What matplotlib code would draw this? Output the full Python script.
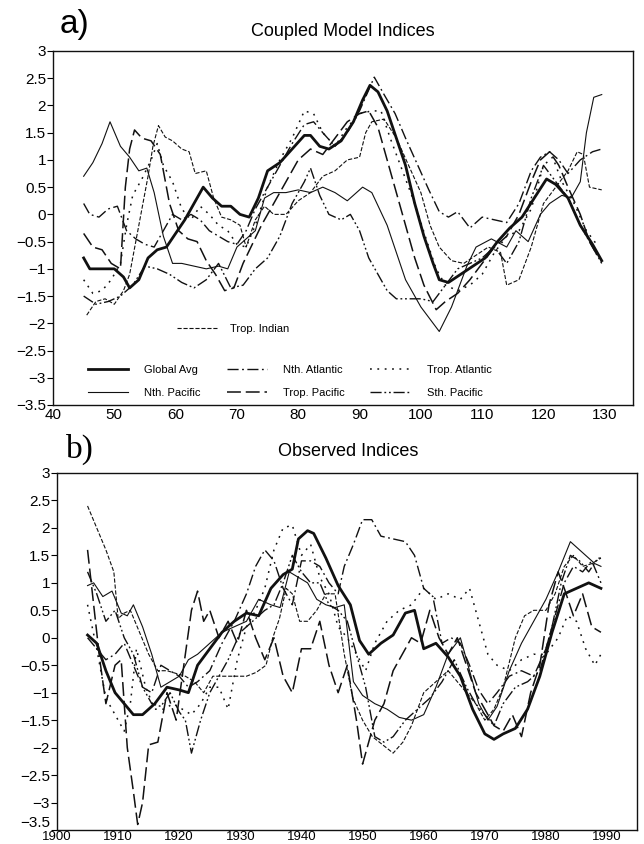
import matplotlib
matplotlib.use("Agg")
import matplotlib.pyplot as plt
from matplotlib import font_manager
from matplotlib.lines import Line2D
from matplotlib.ticker import FuncFormatter

# ---- a) coupled model indices (model years) ----
model_global_x = [45, 46, 48, 50, 51.5, 52.5, 54, 55.5, 57, 58.5, 60, 61.5, 63, 64.5, 66, 67.5, 69, 70.5, 72, 73.5,
                  75, 77, 79, 81, 82, 83.5, 85, 87, 89, 90.5, 91.7, 93, 94.5, 96, 97.5, 99, 100.5, 102, 103, 104.5,
                  106.5, 108.5, 110.5, 112.5, 114.5, 116.5, 118.5, 120.5, 122, 124, 126, 128, 129.5]
model_global_y = [-0.8, -1.0, -1.0, -1.0, -1.15, -1.35, -1.2, -0.8, -0.65, -0.6, -0.35, -0.1, 0.2, 0.5, 0.3, 0.15,
                  0.15, 0.0, -0.05, 0.3, 0.8, 0.95, 1.2, 1.45, 1.45, 1.25, 1.2, 1.35, 1.7, 2.1, 2.37, 2.25, 1.9, 1.4,
                  0.9, 0.2, -0.4, -0.9, -1.2, -1.25, -1.1, -0.95, -0.8, -0.5, -0.25, -0.05, 0.3, 0.65, 0.55, 0.3,
                  -0.2, -0.55, -0.85]

model_npac_x = [45, 46.5, 48, 49.3, 51, 52.5, 54, 55.3, 56.5, 58, 59.5, 61, 63, 65, 67, 68.5, 70, 71.5, 73, 74.5,
                76, 78, 80, 82, 84, 86, 88, 90.5, 92, 94.5, 97.5, 100, 103, 105, 107.5, 109, 111.5, 114, 115.5,
                117.5, 119.5, 121, 123, 124.5, 126, 127, 128.2, 129.5]
model_npac_y = [0.7, 0.95, 1.3, 1.7, 1.25, 1.05, 0.8, 0.85, 0.4, -0.4, -0.9, -0.9, -0.95, -1.0, -0.95, -1.0, -0.6,
                -0.45, -0.3, 0.3, 0.4, 0.4, 0.45, 0.4, 0.5, 0.4, 0.25, 0.5, 0.4, -0.2, -1.2, -1.7, -2.15, -1.7,
                -0.95, -0.6, -0.45, -0.6, -0.3, -0.5, 0.0, 0.2, 0.35, 0.3, 0.6, 1.5, 2.15, 2.2]

model_natl_x = [45, 46, 47.5, 49, 50.5, 52, 53.5, 55, 56.5, 58, 59.5, 61, 62.5, 64, 65.5, 67, 68.5, 70, 71.5, 73,
                75, 77, 79, 81, 82.5, 84, 86, 88, 90, 92.4, 94, 95.8, 97.5, 99.5, 101.3, 103, 104.5, 106, 108, 110,
                112, 114, 116, 118, 119.5, 121, 122.5, 124, 126, 128, 129.5]
model_natl_y = [0.2, 0.0, -0.05, 0.1, 0.15, -0.3, -0.45, -0.55, -0.6, -0.3, 0.0, -0.1, 0.0, -0.1, -0.3, -0.4, -0.5,
                -0.55, -0.3, 0.1, 0.5, 0.9, 1.3, 1.65, 1.7, 1.5, 1.25, 1.5, 1.9, 2.52, 2.2, 1.85, 1.4, 0.9, 0.45,
                0.05, -0.05, 0.05, -0.25, -0.05, -0.1, -0.15, 0.2, 0.8, 1.05, 1.15, 1.0, 0.75, 1.0, 1.15, 1.2]

model_tatl_x = [45, 46.5, 48, 49.5, 51, 52, 53, 54.5, 56, 57, 58, 59.5, 61, 62.5, 64, 65.5, 67, 68.5, 70, 71.5,
                73, 75, 77, 79, 81, 82.5, 84, 86, 88, 90, 92, 93.5, 95, 97, 99, 101, 102.5, 104, 106, 108, 110,
                112, 114, 116, 118, 120, 121.5, 123, 125, 127, 129]
model_tatl_y = [-1.2, -1.45, -1.4, -1.2, -0.9, -0.2, 0.35, 0.65, 1.0, 1.3, 0.9, 0.6, 0.1, -0.1, 0.15, 0.0, -0.2,
                -0.3, -0.55, -0.6, -0.2, 0.5, 1.0, 1.4, 1.9, 1.85, 1.5, 1.25, 1.6, 1.85, 1.9, 1.9, 1.4, 0.8, 0.2,
                -0.5, -1.0, -1.3, -1.4, -1.3, -1.1, -0.7, -0.4, -0.3, 0.1, 0.9, 1.05, 0.6, 0.2, -0.3, -0.6]

model_tpac_x = [45, 46.5, 48, 49.5, 51, 51.8, 52.5, 53.3, 54.5, 56, 57.5, 59, 60.5, 62, 63.5, 65, 66.5, 68, 69.5,
                71, 72.5, 74, 76, 78, 80, 82, 84, 86, 88, 90, 91.5, 93, 94.5, 96, 97.5, 99, 100.5, 102.5, 104, 106,
                108, 110, 112, 114, 116, 118, 119.5, 121, 122.5, 124, 126, 127.5, 129]
model_tpac_y = [-0.35, -0.6, -0.65, -0.9, -1.0, 0.5, 1.2, 1.55, 1.4, 1.35, 1.1, 0.2, -0.3, -0.45, -0.5, -0.85,
                -1.1, -1.4, -1.35, -0.9, -0.55, -0.2, 0.2, 0.6, 1.0, 1.2, 1.1, 1.4, 1.7, 1.85, 1.9, 1.6, 1.0, 0.4,
                -0.2, -0.8, -1.3, -1.75, -1.6, -1.45, -1.2, -0.9, -0.6, -0.4, 0.0, 0.6, 1.0, 1.15, 0.9, 0.5, 0.0,
                -0.5, -0.8]

model_spac_x = [45, 47, 49, 51, 53, 55, 57, 59, 61, 63, 65, 67, 69, 71, 73, 75, 77, 79, 81, 82, 83.5, 85, 87, 88.5,
                90, 91.5, 93, 94.5, 96, 98, 100, 102, 104, 106, 108, 110, 112, 114, 116, 118, 120, 122, 124, 126,
                128, 129.5]
model_spac_y = [-1.5, -1.65, -1.6, -1.5, -1.3, -0.95, -1.0, -1.1, -1.25, -1.35, -1.2, -0.9, -1.35, -1.3, -1.0,
                -0.8, -0.4, 0.2, 0.6, 0.85, 0.35, 0.0, -0.1, 0.0, -0.3, -0.8, -1.1, -1.4, -1.55, -1.55, -1.55,
                -1.6, -1.3, -1.0, -0.9, -0.8, -0.6, -0.9, -0.5, 0.3, 0.9, 0.6, 0.3, -0.2, -0.6, -0.9]

model_tind_x = [45.5, 47, 48.5, 50, 51.5, 52.5, 53.5, 54.5, 55.5, 56.3, 57.2, 58.3, 59.5, 61, 62.2, 63.2, 65, 66.2,
                67.5, 69, 70.5, 71.5, 73, 74.5, 76, 78, 80, 82, 84, 86, 88, 90, 91, 92, 94, 96, 98, 100, 101.5, 103,
                105, 107, 109, 111, 113, 114, 116, 118, 120, 122, 124, 125.5, 126.5, 127.5, 129.5]
model_tind_y = [-1.85, -1.6, -1.55, -1.65, -1.4, -1.1, -0.5, 0.1, 0.7, 1.25, 1.63, 1.42, 1.35, 1.2, 1.15, 0.75,
                0.8, 0.3, -0.05, -0.1, -0.2, -0.6, -0.1, 0.15, 0.0, 0.0, 0.25, 0.4, 0.7, 0.8, 1.0, 1.05, 1.5, 1.7,
                1.75, 1.4, 0.9, 0.4, -0.2, -0.6, -0.85, -0.9, -0.75, -0.6, -0.7, -1.3, -1.2, -0.6, 0.2, 0.5, 0.8,
                1.15, 1.1, 0.5, 0.45]

# ---- b) observed indices (calendar years) ----
obs_global_x = [1905, 1906.5, 1908, 1909.5, 1911, 1912.5, 1914, 1916, 1918, 1920, 1921.5, 1923, 1925, 1927, 1929,
                1931, 1933, 1935, 1937, 1938.5, 1939.5, 1941, 1942, 1944, 1946, 1948, 1949.5, 1951, 1953, 1955,
                1957, 1958.5, 1960, 1962, 1964, 1966, 1968, 1970, 1971.5, 1973, 1975, 1977, 1979, 1981, 1983, 1985,
                1987, 1989]
obs_global_y = [0.05, -0.1, -0.6, -1.0, -1.2, -1.4, -1.4, -1.2, -0.9, -0.95, -1.0, -0.5, -0.2, 0.1, 0.3, 0.45, 0.4,
                0.9, 1.15, 1.25, 1.8, 1.95, 1.9, 1.45, 0.95, 0.6, -0.05, -0.3, -0.1, 0.05, 0.45, 0.5, -0.2, -0.1,
                -0.35, -0.7, -1.3, -1.75, -1.85, -1.75, -1.65, -1.3, -0.7, 0.1, 0.8, 0.9, 1.0, 0.9]

obs_npac_x = [1905, 1906, 1907.5, 1909, 1910.5, 1911.5, 1912.5, 1914, 1915.5, 1917, 1918.5, 1920, 1921.5, 1923,
              1925, 1927, 1929, 1931, 1933, 1935, 1936.5, 1938, 1939.5, 1941, 1942.5, 1944, 1945.5, 1947, 1948.5,
              1950, 1952, 1954, 1956, 1958, 1960, 1962, 1964, 1966, 1967.5, 1969, 1970.5, 1972, 1974, 1976, 1978,
              1980, 1982, 1984, 1985.5, 1987, 1988, 1989]
obs_npac_y = [0.95, 1.0, 0.75, 0.85, 0.45, 0.4, 0.6, 0.2, -0.3, -0.9, -0.8, -0.7, -0.4, -0.3, -0.1, 0.1, 0.2, 0.3,
              0.7, 0.6, 0.55, 1.2, 1.1, 1.0, 0.7, 0.6, 0.55, 0.6, -0.8, -1.05, -1.2, -1.3, -1.45, -1.5, -1.4, -0.9,
              -0.3, 0.0, -0.6, -1.2, -1.5, -1.25, -0.6, -0.1, 0.3, 0.7, 1.2, 1.75, 1.6, 1.45, 1.35, 1.3]

obs_natl_x = [1905, 1906.5, 1908, 1909.5, 1911, 1912.5, 1914, 1915.5, 1917, 1918.5, 1920, 1921.5, 1923, 1925,
              1927, 1929, 1931, 1932.5, 1934, 1935.5, 1937, 1938.5, 1940, 1941.5, 1943, 1944.5, 1946, 1947, 1948.5,
              1950, 1951.5, 1953, 1955, 1957, 1958.5, 1960, 1961.5, 1963, 1964.5, 1966, 1967.5, 1969, 1970.5, 1972,
              1974, 1976, 1978, 1980, 1981.5, 1983, 1984.5, 1986, 1987.5, 1989]
obs_natl_y = [0.0, -0.2, -0.4, -0.3, -0.1, -0.5, -0.9, -1.0, -0.5, -0.6, -0.7, -0.9, -0.8, -0.6, -0.1, 0.3, 0.8,
              1.3, 1.6, 1.4, 0.9, 0.6, 1.4, 1.4, 1.3, 1.0, 0.8, 1.3, 1.7, 2.15, 2.15, 1.85, 1.8, 1.75, 1.5, 0.9,
              0.75, -0.1, 0.0, -0.1, -0.5, -0.95, -1.2, -1.0, -0.7, -0.6, -0.7, -0.2, 0.4, 1.0, 1.3, 1.2, 1.4, 1.0]

obs_tatl_x = [1905, 1906.5, 1908, 1909.5, 1911, 1912, 1913, 1914.5, 1916, 1917.5, 1919, 1920.5, 1922, 1923.5, 1925,
              1926.5, 1928, 1929.5, 1931, 1932.5, 1934, 1935.5, 1937, 1938.5, 1940, 1941.5, 1943, 1944.5, 1946,
              1947.5, 1949, 1950.5, 1952, 1954, 1956, 1958, 1960, 1962, 1964, 1966, 1967.5, 1969, 1970.5, 1972,
              1974, 1976, 1978, 1980, 1982, 1983.5, 1985, 1986.5, 1988, 1989]
obs_tatl_y = [0.6, -0.2, -1.1, -1.4, -1.7, -1.2, -0.2, -0.9, -1.3, -1.3, -1.2, -1.3, -1.4, -1.2, -0.9, -0.9, -1.3,
              -0.4, 0.2, 0.5, 0.9, 1.6, 2.0, 2.05, 1.5, 1.7, 1.1, 0.8, 0.2, 0.0, -0.3, -0.6, -0.1, 0.3, 0.5, 0.6,
              0.9, 0.7, 0.8, 0.7, 0.9, 0.3, -0.3, -0.5, -0.6, -0.4, -0.3, -0.3, 0.0, 0.4, 0.3, -0.2, -0.5, -0.3]

obs_tpac_x = [1905, 1906, 1907, 1908, 1909.5, 1910.5, 1911.5, 1912.5, 1913.2, 1914, 1915, 1916.5, 1918, 1919.5,
              1921, 1922, 1923, 1924, 1925, 1926.5, 1928, 1929.5, 1931, 1932.5, 1934, 1935.5, 1937, 1938.5, 1940,
              1941.5, 1943, 1944.5, 1946, 1947.5, 1949, 1950, 1951, 1952, 1953.5, 1955, 1956.5, 1958, 1959.5, 1961,
              1962.5, 1964, 1965.5, 1967, 1968.5, 1970, 1971.5, 1973, 1974.5, 1976, 1977.5, 1979, 1980.5, 1982,
              1983, 1984.5, 1986, 1987.5, 1989]
obs_tpac_y = [1.6, 0.6, -0.4, -1.2, -0.5, -0.4, -2.0, -2.8, -3.4, -3.0, -1.95, -1.9, -1.0, -1.5, -0.3, 0.5, 0.85,
              0.3, 0.5, 0.0, 0.3, -0.1, 0.5, 0.0, -0.4, 0.0, -0.7, -1.0, -0.2, -0.2, 0.3, -0.5, -1.0, -0.5, -1.5,
              -2.3, -1.9, -1.5, -1.2, -0.6, -0.3, 0.0, -0.1, 0.5, 0.0, -0.3, 0.0, -0.5, -1.0, -1.3, -1.6, -1.7,
              -1.4, -1.8, -1.0, -0.5, 0.6, 1.2, 0.9, 0.4, 0.8, 0.2, 0.1]

obs_spac_x = [1905, 1906.5, 1908, 1909.5, 1911, 1912.5, 1914, 1915.5, 1917, 1918.5, 1920, 1921, 1922, 1923.5, 1925,
              1926.5, 1928, 1930, 1932, 1934, 1935.5, 1937, 1938.5, 1940, 1941.5, 1943, 1944.5, 1946, 1947.5, 1949,
              1950.5, 1952, 1953.5, 1955, 1957, 1959, 1961, 1963, 1965, 1967, 1968.5, 1970, 1971.5, 1973, 1975,
              1977, 1979, 1981, 1982.5, 1984, 1985.5, 1987, 1988.5, 1989]
obs_spac_y = [1.2, 0.8, 0.3, 0.5, 0.0, -0.3, -0.9, -1.2, -1.25, -1.0, -1.35, -1.5, -2.1, -1.5, -1.0, -0.7, -0.4,
              0.1, 0.3, 0.5, 0.6, 1.0, 1.5, 1.2, 1.0, 1.0, 0.6, 0.5, 0.3, -0.3, -0.9, -1.8, -1.9, -1.8, -1.5, -1.3,
              -1.1, -0.8, -0.4, -0.9, -1.2, -1.4, -1.6, -1.2, -0.9, -0.8, -0.6, 0.2, 1.0, 1.5, 1.4, 1.2, 1.45, 1.45]

obs_tind_x = [1905, 1906.5, 1908, 1909.3, 1910, 1911, 1912, 1913.5, 1915, 1916.5, 1918, 1919.5, 1921, 1922.5, 1924,
              1925.5, 1927, 1929, 1931, 1932.6, 1934.2, 1935.3, 1936.4, 1937.5, 1938.5, 1939.7, 1941, 1942.5, 1944,
              1945.5, 1947, 1948.4, 1950, 1951.6, 1953.3, 1955, 1956.6, 1958, 1960, 1962, 1964, 1965.5, 1967,
              1968.5, 1970, 1971.5, 1973, 1975, 1976.5, 1978, 1980, 1981.5, 1983, 1984.5, 1986, 1987.5, 1989]
obs_tind_y = [2.4, 2.0, 1.6, 1.2, 0.35, 0.45, 0.5, 0.1, -0.3, -0.6, -0.6, -0.65, -0.7, -0.8, -1.0, -0.7, -0.7,
              -0.7, -0.7, -0.63, -0.5, 0.0, 0.35, 0.9, 0.8, 0.3, 0.3, 0.5, 0.8, 0.8, -0.3, -1.1, -1.5, -1.8, -1.95,
              -2.1, -1.9, -1.6, -1.0, -0.8, -0.6, -0.8, -1.0, -1.2, -1.5, -1.3, -0.9, 0.0, 0.4, 0.5, 0.5, 0.8, 1.3,
              1.5, 1.3, 1.35, 1.45]

y_ticks = [-3.5, -3, -2.5, -2, -1.5, -1, -0.5, 0, 0.5, 1, 1.5, 2, 2.5, 3]
model_years = list(range(40, 131, 10))
obs_years = list(range(1900, 1991, 10))

names = {f.name for f in font_manager.fontManager.ttflist}
tick_font = "Liberation Sans Narrow" if "Liberation Sans Narrow" in names else "Liberation Sans"
plt.rcParams["font.family"] = ["Liberation Sans", "DejaVu Sans"]
plt.rcParams["lines.scale_dashes"] = False

ink = "#111111"
styles = {
    "Global Avg": dict(color=ink, lw=2.0, ls="-"),
    "Nth. Pacific": dict(color=ink, lw=0.8, ls="-"),
    "Nth. Atlantic": dict(color=ink, lw=1.0, ls=(0, (8, 2.5, 1.3, 2.5))),
    "Trop. Pacific": dict(color=ink, lw=1.1, ls=(0, (10, 3.5))),
    "Trop. Atlantic": dict(color=ink, lw=1.1, ls=(0, (1.3, 4))),
    "Sth. Pacific": dict(color=ink, lw=1.0, ls=(0, (8, 2, 1.3, 2, 1.3, 2))),
    "Trop. Indian": dict(color=ink, lw=0.8, ls=(0, (3, 1.3))),
}

model = {
    "Global Avg": (model_global_x, model_global_y),
    "Nth. Pacific": (model_npac_x, model_npac_y),
    "Nth. Atlantic": (model_natl_x, model_natl_y),
    "Trop. Pacific": (model_tpac_x, model_tpac_y),
    "Trop. Atlantic": (model_tatl_x, model_tatl_y),
    "Sth. Pacific": (model_spac_x, model_spac_y),
    "Trop. Indian": (model_tind_x, model_tind_y),
}
observed = {
    "Global Avg": (obs_global_x, obs_global_y),
    "Nth. Pacific": (obs_npac_x, obs_npac_y),
    "Nth. Atlantic": (obs_natl_x, obs_natl_y),
    "Trop. Pacific": (obs_tpac_x, obs_tpac_y),
    "Trop. Atlantic": (obs_tatl_x, obs_tatl_y),
    "Sth. Pacific": (obs_spac_x, obs_spac_y),
    "Trop. Indian": (obs_tind_x, obs_tind_y),
}


def style_axes(ax, xlim, xticks, xsize):
    ax.set_xlim(*xlim)
    ax.set_ylim(-3.5, 3)
    ax.set_xticks(xticks)
    ax.set_yticks(y_ticks)
    ax.yaxis.set_major_formatter(FuncFormatter(lambda v, p: ("%g" % v).replace("-", "\u2212")))
    ax.tick_params(axis="y", direction="out", length=4, width=0.8, pad=1, labelsize=11)
    ax.tick_params(axis="x", length=0, pad=2, labelsize=xsize)
    for t in ax.xaxis.get_major_ticks() + ax.yaxis.get_major_ticks():
        t.label1.set_family(tick_font)
    for sp in ax.spines.values():
        sp.set_linewidth(1.0)
        sp.set_color(ink)


fig = plt.figure(figsize=(6.44, 8.44), dpi=100)
ax1 = fig.add_axes([53 / 644, 439 / 844, 580 / 644, 354 / 844])
ax2 = fig.add_axes([57 / 644, 14 / 844, 580 / 644, 357 / 844])

for name, (xs, ys) in model.items():
    ax1.plot(xs, ys, label=name, **styles[name])
for name, (xs, ys) in observed.items():
    ax2.plot(xs, ys, label=name, **styles[name])

style_axes(ax1, (40, 134.6), model_years, 11)
style_axes(ax2, (1900, 1994.9), obs_years, 9.5)
ax2.tick_params(axis="x", pad=0.5)
# lowest label of panel b sits just above the year labels, as in the original
ax2.yaxis.get_major_ticks()[0].label1.set_verticalalignment("bottom")

# legends inside panel a
order = ["Global Avg", "Nth. Pacific", "Nth. Atlantic", "Trop. Pacific", "Trop. Atlantic", "Sth. Pacific"]
handles = [Line2D([], [], **styles[n]) for n in order]
leg = ax1.legend(handles, order, ncol=3, loc="lower left", bbox_to_anchor=(0.06, 0.02),
                 frameon=False, borderpad=0, borderaxespad=0, handlelength=3.6, handletextpad=1.5,
                 columnspacing=2.3, labelspacing=1.2, prop={"size": 8})
ax1.add_artist(leg)
ind = Line2D([], [], **styles["Trop. Indian"])
ax1.legend([ind], ["Trop. Indian"], loc="center left", bbox_to_anchor=(0.214, 0.215), frameon=False,
           borderpad=0, borderaxespad=0, handlelength=3.6, handletextpad=1.2, prop={"size": 8})

fig.text(60 / 644, 1 - 24 / 844, "a)", fontsize=24, va="center", ha="left", family="Liberation Sans")
fig.text(343 / 644, 1 - 31 / 844, "Coupled Model Indices", fontsize=13, ha="center", va="center")
fig.text(66 / 644, 1 - 449 / 844, "b)", fontsize=24, va="center", ha="left", family="Liberation Serif")
fig.text(348 / 644, 1 - 451 / 844, "Observed Indices", fontsize=13, ha="center", va="center")

fig.savefig("out.png", dpi=100)
